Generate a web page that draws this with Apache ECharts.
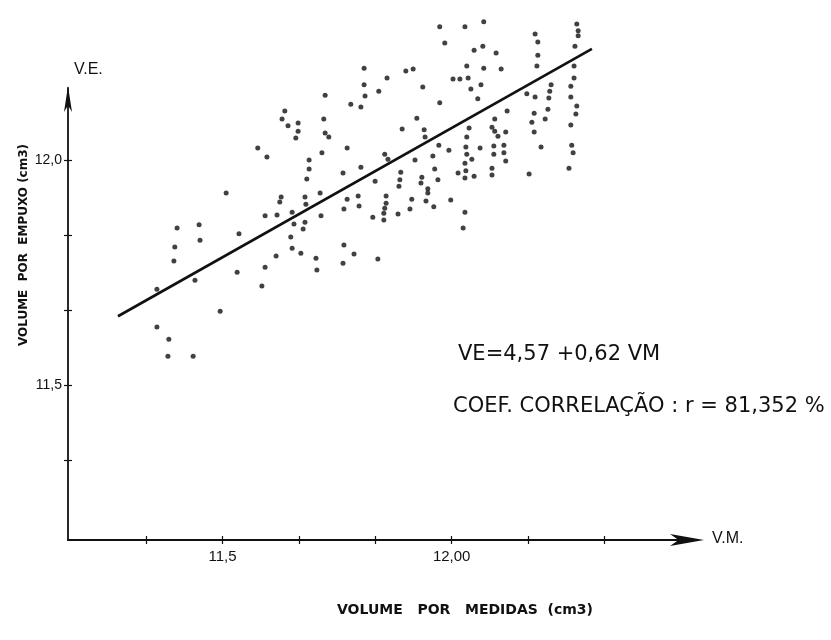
<!DOCTYPE html>
<html><head><meta charset="utf-8">
<script src="https://cdn.jsdelivr.net/npm/echarts@6/dist/echarts.min.js"></script>
<style>html,body{margin:0;padding:0;background:#fff}#c{width:831px;height:640px}</style>
</head><body><div id="c"></div>
<script>
// Volume por medidas (V.M.) and volume por empuxo (V.E.), cm3
const vm = [
 11.577,11.597,
 11.809,11.900,11.916,11.859,11.809,11.937,11.841,11.724,11.811,11.780,
 11.802,11.636,11.630,11.721,11.665,11.643,11.924,11.665,11.724,11.892,
 11.940,11.732,11.660,11.942,11.772,11.717,11.854,11.689,11.861,11.959,
 11.920,11.802,11.689,11.763,11.889,11.684,11.833,11.887,11.935,11.933,
 11.885,11.948,
 11.974,12.029,12.070,11.985,12.068,12.049,12.097,12.033,12.070,12.108,
 12.003,12.018,12.036,12.064,12.042,12.057,11.974,12.182,12.188,12.188,
 12.186,12.273,12.276,12.276,12.269,12.267,12.267,12.260,12.217,12.214,
 12.164,12.182,12.212,12.260,12.273,12.121,12.210,12.180,12.271,12.094,
 12.204,12.175,12.260,12.038,12.088,12.094,12.118,12.180,12.033,12.101,
 11.972,11.994,12.031,12.062,12.092,12.114,12.195,12.262,12.265,12.033,
 12.092,12.114,12.044,12.118,12.029,12.088,12.256,12.014,12.031,12.049,
 12.088,12.169,11.970,12.029,11.963,
 11.508,11.593,11.449,11.401,11.536,11.451,11.396,11.394,11.440,11.532,
 11.593,11.586,11.357,11.495,11.357,11.383,11.381,11.436,
 11.628,11.625,11.680,11.682,11.713,11.772,11.796,11.857,11.857,11.854,
 11.852,11.852,11.765,11.798,11.828,11.883,11.909,11.913,11.944,11.948,
 11.961,11.619,11.652,11.715,11.680,11.656,11.676,11.649,11.652,11.671,
 11.617,11.704,11.765,11.787,11.839,11.763,11.706,
 11.998,12.029,12.025
];
const ve = [
 12.027,12.007,
 12.204,12.198,12.202,12.182,12.167,12.162,12.153,12.144,12.142,12.124,
 12.118,12.109,12.091,12.091,12.082,12.076,12.093,12.064,12.060,12.069,
 12.067,12.051,12.049,12.051,12.027,12.016,12.013,12.000,12.002,12.009,
 12.000,11.984,11.980,11.971,11.973,11.958,11.953,11.956,11.962,11.949,
 11.942,11.936,
 12.296,12.296,12.307,12.260,12.253,12.244,12.238,12.209,12.204,12.202,
 12.180,12.180,12.182,12.167,12.158,12.136,12.127,12.280,12.262,12.233,
 12.209,12.302,12.287,12.276,12.253,12.209,12.182,12.164,12.167,12.153,
 12.147,12.140,12.138,12.140,12.120,12.109,12.113,12.104,12.102,12.091,
 12.091,12.084,12.078,12.071,12.073,12.064,12.062,12.062,12.051,12.053,
 12.033,12.022,12.029,12.027,12.031,12.033,12.029,12.033,12.016,12.013,
 12.013,12.016,12.002,11.998,11.993,11.982,11.982,11.971,11.976,11.964,
 11.967,11.969,11.956,11.960,11.980,
 11.927,11.876,11.856,11.849,11.836,11.822,11.807,11.776,11.733,11.751,
 11.762,11.720,11.713,11.664,11.629,11.602,11.564,11.564,
 11.918,11.907,11.918,11.902,11.927,11.913,11.920,11.920,11.904,11.893,
 11.882,11.867,11.891,11.898,11.873,11.880,11.891,11.913,11.909,11.927,
 11.896,11.878,11.884,11.876,11.862,11.858,11.847,11.829,11.804,11.793,
 11.787,11.782,11.811,11.791,11.780,11.771,11.756,
 11.911,11.884,11.849
];
// fitted line as drawn on the figure (ends)
const lineVM = [11.272, 12.306];
const lineVE = [11.653, 12.247];
// ticks
const xTicks = [11.3333, 11.5, 11.6667, 11.8333, 12.0, 12.1667, 12.3333];
const xTickLabels = [[11.5, '11,5'], [12.0, '12,00']];
const yTicks = [11.3333, 11.5, 11.6667, 11.8333, 12.0];
const yTickLabels = [[11.5, '11,5'], [12.0, '12,0']];
const equationText = 'VE=4,57 +0,62 VM';
const corrText = 'COEF. CORRELAÇÃO : r = 81,352 %';

const pts = vm.map((v, i) => [v, ve[i]]);
const lbl = (pairs) => (v) => { for (const [k, s] of pairs) if (Math.abs(v - k) < 1e-3) return s; return ''; };
const ink = '#111';
const font = 'Liberation Sans';
const font2 = 'DejaVu Sans';

const X_MIN = 11.163, X_MAX = 12.52, Y_MIN = 11.156, Y_MAX = 12.16;
const baseAxis = {
  axisLine: { show: false }, splitLine: { show: false }, axisLabel: { show: false },
  axisTick: { show: true, inside: true, length: 4, lineStyle: { color: ink, width: 1.2 } }
};
const chart = echarts.init(document.getElementById('c'), null, { renderer: 'canvas' });
chart.setOption({
  backgroundColor: '#fff',
  animation: false,
  grid: { left: 68, right: 141, top: 88, bottom: 100, containLabel: false },
  xAxis: [{
    type: 'value', min: X_MIN, max: X_MAX, position: 'bottom',
    axisLine: { show: true, onZero: false, lineStyle: { color: ink, width: 1.8 }, symbol: ['none', 'arrow'], symbolSize: [9, 34], symbolOffset: [0, 14] },
    axisTick: { show: true, length: 4, customValues: xTicks, lineStyle: { color: ink, width: 1.2 } },
    axisLabel: { show: true, customValues: xTicks, formatter: lbl(xTickLabels), color: ink, fontSize: 15, fontFamily: font, margin: 9 },
    splitLine: { show: false }
  }, Object.assign({ type: 'value', min: X_MIN, max: X_MAX, position: 'bottom' }, baseAxis, {
    axisTick: Object.assign({}, baseAxis.axisTick, { customValues: xTicks })
  })],
  yAxis: [{
    type: 'value', min: Y_MIN, max: Y_MAX, position: 'left',
    axisLine: { show: true, onZero: false, lineStyle: { color: ink, width: 1.8 }, symbol: ['none', 'arrow'], symbolSize: [6, 26], symbolOffset: [0, 2] },
    axisTick: { show: true, length: 4, customValues: yTicks, lineStyle: { color: ink, width: 1.2 } },
    axisLabel: { show: true, customValues: yTicks, formatter: lbl(yTickLabels), color: ink, fontSize: 14, fontFamily: font, margin: 6 },
    splitLine: { show: false }
  }, Object.assign({ type: 'value', min: Y_MIN, max: Y_MAX, position: 'left' }, baseAxis, {
    axisTick: Object.assign({}, baseAxis.axisTick, { customValues: yTicks })
  })],
  series: [{
    type: 'scatter', data: pts, symbol: 'circle', symbolSize: 5, clip: false,
    itemStyle: { color: ink }, silent: true
  }, {
    type: 'line', data: lineVM.map((v, i) => [v, lineVE[i]]), showSymbol: false, clip: false,
    lineStyle: { color: ink, width: 2.6 }, silent: true
  }],
  graphic: [
    { type: 'text', left: 74, top: 62, style: { text: 'V.E.', fontSize: 16, fontFamily: font, fill: ink } },
    { type: 'text', left: 712, top: 531, style: { text: 'V.M.', fontSize: 16, fontFamily: font, fill: ink } },
    { type: 'text', x: 24, y: 245, rotation: Math.PI / 2, style: { text: 'VOLUME  POR  EMPUXO (cm3)', fontSize: 12, fontWeight: 'bold', fontFamily: font2, fill: ink, align: 'center', verticalAlign: 'middle' } },
    { type: 'text', x: 465, y: 610, style: { text: 'VOLUME   POR   MEDIDAS  (cm3)', fontSize: 14, fontWeight: 'bold', fontFamily: font2, fill: ink, align: 'center', verticalAlign: 'middle' } },
    { type: 'text', left: 458, top: 344, style: { text: equationText, fontSize: 21, fontFamily: font2, fill: ink } },
    { type: 'text', left: 453, top: 396, style: { text: corrText, fontSize: 21, fontFamily: font2, fill: ink } }
  ]
});
</script></body></html>
